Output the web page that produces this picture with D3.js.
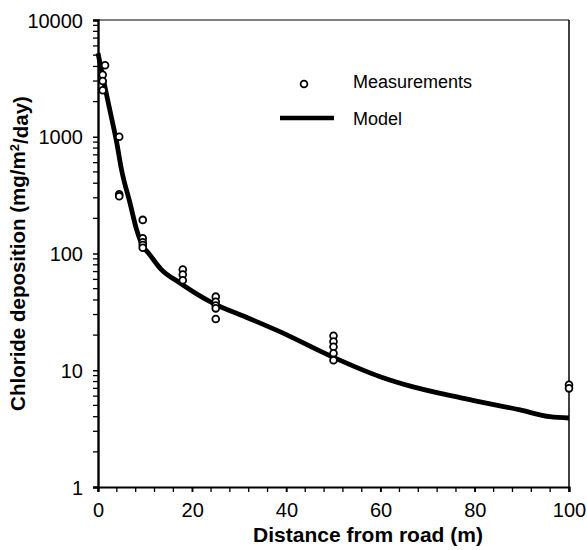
<!DOCTYPE html>
<html>
<head>
<meta charset="utf-8">
<script src="https://cdn.jsdelivr.net/npm/d3@7"></script>
<style>
  body { margin: 0; background: #fff; }
  text { font-family: "Liberation Sans", Arial, sans-serif; fill: #000; }
</style>
</head>
<body>
<div id="chart"></div>
<script>
// measured deposition (x = distance in m, y = mg/m2/day)
const measX = [1, 1, 1, 1.5, 4.5, 4.5, 4.5, 9.5, 9.5, 9.5, 9.5, 9.5, 18, 18, 18,
               25, 25, 25, 25, 25, 50, 50, 50, 50, 50, 100, 100];
const measY = [3400, 3000, 2500, 4100, 1000, 321, 310, 194, 135, 125, 118, 112, 73, 66, 59,
               42.7, 38.6, 35.9, 33.9, 27.5, 19.7, 17.6, 15.9, 14, 12.2, 7.5, 7.0];

// model curve
const modelX = [0, 1, 2.5, 4, 5, 6.8, 8.2, 9.6, 10.7, 13.3, 17.4, 24.5, 31.6, 38.6,
                49.6, 59.9, 66.9, 77.6, 89.6, 96, 100];
const modelY = [5200, 3300, 1700, 880, 520, 270, 160, 114, 101, 74, 56, 37.4, 28.3, 21.4,
                13.1, 8.8, 7.2, 5.75, 4.57, 4.0, 3.9];

const xTicks = [0, 20, 40, 60, 80, 100];
const yTicks = [1, 10, 100, 1000, 10000];

const W = 587, H = 550;
const margin = {top: 20, right: 18, bottom: 63, left: 98};
const width = W - margin.left - margin.right;
const height = H - margin.top - margin.bottom;

const svg = d3.select("#chart")
  .append("svg")
    .attr("width", W)
    .attr("height", H);

const g = svg.append("g")
  .attr("transform", `translate(${margin.left},${margin.top})`);

const x = d3.scaleLinear().domain([0, 100]).range([0, width]);
const y = d3.scaleLog().domain([1, 10000]).range([height, 0]);

// frame (top and right)
g.append("line")
  .attr("x1", 0).attr("x2", width).attr("y1", 0).attr("y2", 0)
  .attr("stroke", "#000").attr("stroke-width", 1.2);
g.append("line")
  .attr("x1", width).attr("x2", width).attr("y1", 0).attr("y2", height)
  .attr("stroke", "#000").attr("stroke-width", 1.5);

// y minor ticks
const yMinor = [];
for (let p = 1; p < 10000; p *= 10) {
  for (let k = 2; k <= 9; k++) yMinor.push(p * k);
}
g.selectAll("yMinor")
  .data(yMinor)
  .enter()
  .append("line")
  .attr("x1", -5).attr("x2", 0)
  .attr("y1", d => y(d)).attr("y2", d => y(d))
  .attr("stroke", "#000").attr("stroke-width", 1.3);

// x minor ticks every 4 m
g.selectAll("xMinor")
  .data(d3.range(0, 101, 4))
  .enter()
  .append("line")
  .attr("x1", d => x(d)).attr("x2", d => x(d))
  .attr("y1", height).attr("y2", height + 5)
  .attr("stroke", "#000").attr("stroke-width", 1.3);

// y axis
const yAxis = g.append("g")
  .call(d3.axisLeft(y).tickValues(yTicks).tickFormat(d3.format("d")).tickSize(5).tickPadding(10));
yAxis.select(".domain").attr("stroke-width", 2.4);
yAxis.selectAll(".tick line").attr("stroke-width", 1.5);
yAxis.selectAll("text")
  .style("font-size", "20px")
  .style("font-family", "'Liberation Sans', Arial, sans-serif")
  .attr("dy", "0.36em");

// x axis
const xAxis = g.append("g")
  .attr("transform", `translate(0,${height})`)
  .call(d3.axisBottom(x).tickValues(xTicks).tickSize(5));
xAxis.select(".domain").attr("stroke-width", 2.2);
xAxis.selectAll(".tick line").attr("stroke-width", 1.5);
xAxis.selectAll("text")
  .attr("y", 30)
  .attr("dy", 0)
  .style("font-size", "20px")
  .style("font-family", "'Liberation Sans', Arial, sans-serif");

// axis titles
svg.append("text")
  .attr("x", 368)
  .attr("y", 542)
  .attr("text-anchor", "middle")
  .style("font-size", "21px")
  .style("font-weight", "bold")
  .text("Distance from road (m)");

const yTitle = svg.append("text")
  .attr("transform", `translate(25,${margin.top + height / 2}) rotate(-90)`)
  .attr("text-anchor", "middle")
  .style("font-size", "20.5px")
  .style("font-weight", "bold");
yTitle.append("tspan").text("Chloride deposition (mg/m");
yTitle.append("tspan").attr("dy", "-0.45em").style("font-size", "13px").text("2");
yTitle.append("tspan").attr("dy", "0.45em").text("/day)");

// model line
const line = d3.line()
  .x(d => x(d[0]))
  .y(d => y(d[1]))
  .curve(d3.curveMonotoneX);

g.append("path")
  .datum(modelX.map((d, i) => [d, modelY[i]]))
  .attr("d", line)
  .attr("fill", "none")
  .attr("stroke", "#000")
  .attr("stroke-width", 4.8);

// measurements
g.selectAll("points")
  .data(measX.map((d, i) => [d, measY[i]]))
  .enter()
  .append("circle")
  .attr("cx", d => x(d[0]))
  .attr("cy", d => y(d[1]))
  .attr("r", 3.4)
  .attr("fill", "#fff")
  .attr("stroke", "#000")
  .attr("stroke-width", 1.8);

// legend
const leg = svg.append("g");
leg.append("circle")
  .attr("cx", 304).attr("cy", 84).attr("r", 3.4)
  .attr("fill", "#fff").attr("stroke", "#000").attr("stroke-width", 1.8);
leg.append("text")
  .attr("x", 353).attr("y", 88)
  .style("font-size", "18px")
  .text("Measurements");
leg.append("line")
  .attr("x1", 280).attr("x2", 334).attr("y1", 118).attr("y2", 118)
  .attr("stroke", "#000").attr("stroke-width", 4.5);
leg.append("text")
  .attr("x", 353).attr("y", 125)
  .style("font-size", "18px")
  .text("Model");
</script>
</body>
</html>
